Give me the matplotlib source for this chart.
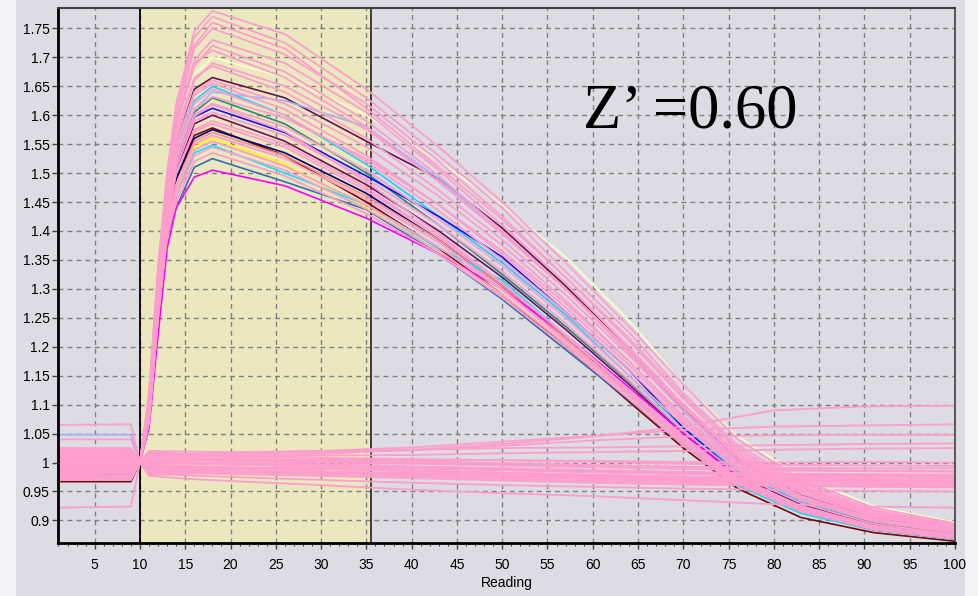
import matplotlib
matplotlib.use("Agg")
import matplotlib.pyplot as plt
from matplotlib.patches import Rectangle
from matplotlib.ticker import MultipleLocator

SIG_X = [1, 9, 10, 11, 12, 13, 14, 16, 18, 26, 35, 43, 50, 57, 64, 70, 76, 83, 91, 100]

PINK = "#ff9dcc"

# (colour, values) for every well that responds
signal_wells = [
    ("#ffffc8", [0.995, 0.995, 1.00, 1.10, 1.31, 1.47, 1.57, 1.670, 1.700, 1.665, 1.600, 1.520, 1.445, 1.355, 1.245, 1.135, 1.045, 0.975, 0.925, 0.897]),
    ("#20d0ff", [0.987, 0.987, 1.00, 1.10, 1.30, 1.46, 1.54, 1.625, 1.650, 1.600, 1.515, 1.425, 1.345, 1.255, 1.150, 1.060, 0.985, 0.932, 0.897, 0.878]),
    (PINK,      [1.010, 1.010, 1.00, 1.12, 1.34, 1.50, 1.62, 1.745, 1.780, 1.740, 1.645, 1.545, 1.450, 1.345, 1.235, 1.135, 1.040, 0.970, 0.922, 0.895]),
    ("#6a1050", [1.018, 1.015, 1.00, 1.10, 1.30, 1.46, 1.55, 1.645, 1.665, 1.630, 1.555, 1.490, 1.405, 1.305, 1.195, 1.092, 1.005, 0.945, 0.905, 0.884]),
    (PINK,      [1.000, 1.002, 1.00, 1.12, 1.33, 1.50, 1.61, 1.735, 1.770, 1.725, 1.630, 1.530, 1.440, 1.330, 1.225, 1.120, 1.030, 0.965, 0.918, 0.892]),
    ("#a0b0ff", [1.048, 1.048, 1.00, 1.09, 1.29, 1.45, 1.53, 1.610, 1.640, 1.625, 1.580, 1.490, 1.400, 1.300, 1.190, 1.088, 1.002, 0.942, 0.903, 0.882]),
    (PINK,      [1.020, 1.018, 1.00, 1.11, 1.33, 1.49, 1.60, 1.720, 1.760, 1.715, 1.612, 1.510, 1.420, 1.320, 1.210, 1.110, 1.020, 0.958, 0.915, 0.890]),
    ("#2a8a7a", [0.980, 0.980, 1.00, 1.09, 1.29, 1.44, 1.52, 1.605, 1.630, 1.585, 1.500, 1.410, 1.325, 1.235, 1.140, 1.055, 0.980, 0.930, 0.895, 0.877]),
    (PINK,      [0.985, 0.985, 1.00, 1.11, 1.32, 1.48, 1.59, 1.695, 1.730, 1.690, 1.605, 1.505, 1.410, 1.310, 1.200, 1.100, 1.015, 0.955, 0.912, 0.889]),
    ("#1010ff", [0.975, 0.975, 1.00, 1.09, 1.28, 1.43, 1.51, 1.597, 1.612, 1.570, 1.495, 1.425, 1.355, 1.260, 1.160, 1.060, 0.980, 0.928, 0.893, 0.875]),
    (PINK,      [1.015, 1.012, 1.00, 1.11, 1.32, 1.48, 1.58, 1.685, 1.720, 1.675, 1.590, 1.495, 1.400, 1.300, 1.190, 1.095, 1.010, 0.950, 0.910, 0.887]),
    ("#701060", [1.005, 1.005, 1.00, 1.09, 1.28, 1.43, 1.50, 1.585, 1.600, 1.555, 1.480, 1.400, 1.320, 1.230, 1.135, 1.050, 0.978, 0.928, 0.893, 0.875]),
    (PINK,      [1.005, 1.005, 1.00, 1.10, 1.31, 1.47, 1.56, 1.660, 1.690, 1.650, 1.575, 1.485, 1.395, 1.300, 1.195, 1.095, 1.010, 0.950, 0.908, 0.886]),
    ("#800000", [0.967, 0.967, 1.00, 1.08, 1.27, 1.42, 1.49, 1.565, 1.578, 1.530, 1.450, 1.370, 1.290, 1.200, 1.105, 1.025, 0.955, 0.905, 0.879, 0.864]),
    (PINK,      [0.975, 0.975, 1.00, 1.10, 1.30, 1.46, 1.55, 1.640, 1.660, 1.620, 1.545, 1.460, 1.375, 1.280, 1.175, 1.080, 1.000, 0.942, 0.903, 0.883]),
    ("#000080", [0.975, 0.975, 1.00, 1.08, 1.27, 1.42, 1.49, 1.560, 1.575, 1.535, 1.465, 1.385, 1.305, 1.215, 1.120, 1.035, 0.965, 0.918, 0.886, 0.870]),
    (PINK,      [1.022, 1.020, 1.00, 1.10, 1.29, 1.45, 1.54, 1.620, 1.645, 1.600, 1.520, 1.435, 1.350, 1.260, 1.160, 1.070, 0.990, 0.936, 0.900, 0.880]),
    ("#ff8c80", [1.000, 1.000, 1.00, 1.08, 1.26, 1.41, 1.48, 1.555, 1.570, 1.530, 1.460, 1.385, 1.305, 1.215, 1.120, 1.040, 0.970, 0.922, 0.889, 0.872]),
    (PINK,      [0.992, 0.992, 1.00, 1.09, 1.28, 1.44, 1.52, 1.600, 1.620, 1.580, 1.505, 1.420, 1.340, 1.250, 1.150, 1.065, 0.988, 0.935, 0.898, 0.879]),
    ("#ffff00", [0.975, 0.975, 1.00, 1.08, 1.26, 1.41, 1.47, 1.545, 1.560, 1.515, 1.440, 1.365, 1.290, 1.205, 1.115, 1.035, 0.965, 0.918, 0.886, 0.870]),
    (PINK,      [1.012, 1.012, 1.00, 1.08, 1.27, 1.42, 1.50, 1.575, 1.590, 1.550, 1.475, 1.390, 1.310, 1.220, 1.125, 1.040, 0.970, 0.924, 0.890, 0.873]),
    ("#00e8ff", [0.970, 0.970, 1.00, 1.07, 1.25, 1.40, 1.46, 1.535, 1.548, 1.500, 1.445, 1.370, 1.315, 1.220, 1.125, 1.035, 0.960, 0.912, 0.883, 0.867]),
    (PINK,      [0.995, 0.995, 1.00, 1.08, 1.26, 1.41, 1.48, 1.550, 1.565, 1.525, 1.455, 1.380, 1.300, 1.210, 1.118, 1.038, 0.968, 0.920, 0.888, 0.871]),
    ("#2f6fb8", [0.990, 0.990, 1.00, 1.07, 1.24, 1.39, 1.44, 1.510, 1.525, 1.485, 1.437, 1.360, 1.282, 1.195, 1.108, 1.030, 0.962, 0.915, 0.884, 0.868]),
    (PINK,      [1.020, 1.020, 1.00, 1.07, 1.25, 1.39, 1.45, 1.520, 1.535, 1.495, 1.430, 1.360, 1.285, 1.200, 1.110, 1.030, 0.962, 0.915, 0.884, 0.868]),
    ("#ff00ff", [0.990, 0.990, 1.00, 1.06, 1.22, 1.37, 1.44, 1.493, 1.505, 1.478, 1.422, 1.360, 1.300, 1.220, 1.130, 1.050, 0.975, 0.920, 0.889, 0.872]),
    (PINK,      [1.008, 1.008, 1.00, 1.11, 1.33, 1.49, 1.60, 1.715, 1.750, 1.705, 1.620, 1.520, 1.425, 1.320, 1.215, 1.115, 1.025, 0.960, 0.916, 0.891]),
    (PINK,      [0.982, 0.982, 1.00, 1.11, 1.32, 1.48, 1.59, 1.690, 1.712, 1.665, 1.580, 1.485, 1.395, 1.300, 1.195, 1.100, 1.015, 0.952, 0.910, 0.887]),
    (PINK,      [1.025, 1.022, 1.00, 1.10, 1.31, 1.47, 1.57, 1.665, 1.685, 1.640, 1.560, 1.470, 1.385, 1.290, 1.185, 1.090, 1.005, 0.946, 0.906, 0.885]),
    (PINK,      [0.972, 0.972, 1.00, 1.07, 1.25, 1.40, 1.46, 1.530, 1.545, 1.505, 1.438, 1.365, 1.290, 1.205, 1.115, 1.035, 0.965, 0.918, 0.886, 0.869]),
    (PINK,      [1.002, 1.002, 1.00, 1.09, 1.29, 1.45, 1.53, 1.610, 1.632, 1.595, 1.525, 1.445, 1.365, 1.275, 1.175, 1.080, 0.998, 0.940, 0.902, 0.881]),
    (PINK,      [0.988, 0.988, 1.00, 1.08, 1.27, 1.42, 1.50, 1.572, 1.585, 1.545, 1.470, 1.390, 1.310, 1.220, 1.125, 1.042, 0.972, 0.925, 0.891, 0.874]),
    (PINK,      [0.998, 0.998, 1.00, 1.09, 1.28, 1.43, 1.51, 1.590, 1.605, 1.565, 1.490, 1.410, 1.330, 1.240, 1.142, 1.055, 0.980, 0.930, 0.894, 0.876]),
    (PINK,      [1.016, 1.016, 1.00, 1.07, 1.25, 1.40, 1.47, 1.540, 1.555, 1.512, 1.445, 1.372, 1.298, 1.212, 1.120, 1.038, 0.966, 0.918, 0.886, 0.869]),
    (PINK,      [0.978, 0.978, 1.00, 1.09, 1.28, 1.44, 1.52, 1.598, 1.618, 1.572, 1.485, 1.395, 1.310, 1.220, 1.125, 1.045, 0.972, 0.922, 0.888, 0.870]),
    (PINK,      [1.010, 1.010, 1.00, 1.10, 1.30, 1.46, 1.55, 1.635, 1.655, 1.610, 1.530, 1.445, 1.360, 1.268, 1.168, 1.075, 0.993, 0.937, 0.899, 0.879]),
]

BASE_X = [1, 9, 10, 11, 15, 20, 30, 40, 50, 60, 70, 80, 90, 100]

control_wells = [
    [1.020, 1.020, 1.00, 1.012, 1.010, 1.012, 1.015, 1.022, 1.032, 1.045, 1.062, 1.090, 1.097, 1.098],
    [1.065, 1.066, 1.00, 1.018, 1.015, 1.016, 1.020, 1.026, 1.036, 1.046, 1.056, 1.062, 1.064, 1.066],
    [1.040, 1.040, 1.00, 1.015, 1.014, 1.015, 1.018, 1.021, 1.029, 1.038, 1.045, 1.047, 1.048, 1.048],
    [1.005, 1.005, 1.00, 1.010, 1.012, 1.010, 1.012, 1.013, 1.016, 1.018, 1.020, 1.022, 1.024, 1.025],
    [0.998, 0.998, 1.00, 1.006, 1.008, 1.006, 1.005, 1.004, 1.004, 1.003, 1.001, 1.000, 1.001, 1.000],
    [1.015, 1.015, 1.00, 1.004, 1.004, 1.002, 1.000, 0.998, 0.995, 0.992, 0.989, 0.986, 0.985, 0.984],
    [0.990, 0.990, 1.00, 1.000, 0.999, 0.998, 0.996, 0.993, 0.990, 0.987, 0.984, 0.981, 0.980, 0.979],
    [1.025, 1.025, 1.00, 0.998, 0.998, 0.996, 0.993, 0.990, 0.987, 0.983, 0.980, 0.977, 0.976, 0.975],
    [0.980, 0.982, 1.00, 0.994, 0.993, 0.991, 0.989, 0.986, 0.983, 0.979, 0.976, 0.974, 0.973, 0.972],
    [1.010, 1.010, 1.00, 0.992, 0.992, 0.991, 0.989, 0.986, 0.982, 0.978, 0.975, 0.972, 0.970, 0.969],
    [1.000, 1.000, 1.00, 0.990, 0.989, 0.988, 0.985, 0.981, 0.977, 0.973, 0.970, 0.968, 0.966, 0.965],
    [0.975, 0.975, 1.00, 0.988, 0.987, 0.985, 0.982, 0.979, 0.975, 0.971, 0.968, 0.965, 0.963, 0.962],
    [1.018, 1.018, 1.00, 0.985, 0.985, 0.983, 0.980, 0.976, 0.972, 0.968, 0.965, 0.962, 0.960, 0.959],
    [0.992, 0.992, 1.00, 0.983, 0.982, 0.980, 0.977, 0.973, 0.969, 0.965, 0.962, 0.960, 0.958, 0.957],
    [0.985, 0.985, 1.00, 0.980, 0.978, 0.975, 0.970, 0.965, 0.961, 0.958, 0.955, 0.953, 0.951, 0.950],
    [0.922, 0.924, 1.00, 0.977, 0.972, 0.968, 0.961, 0.953, 0.947, 0.942, 0.935, 0.928, 0.924, 0.922],
    [0.970, 0.970, 1.00, 1.020, 1.019, 1.018, 1.020, 1.022, 1.025, 1.026, 1.028, 1.030, 1.032, 1.033],
    [1.012, 1.012, 1.00, 1.008, 1.006, 1.004, 1.002, 0.999, 0.997, 0.995, 0.993, 0.991, 0.990, 0.990],
    [1.022, 1.022, 1.00, 1.002, 1.000, 0.999, 0.997, 0.993, 0.990, 0.986, 0.983, 0.980, 0.978, 0.977],
    [0.995, 0.995, 1.00, 0.996, 0.994, 0.992, 0.989, 0.985, 0.981, 0.977, 0.973, 0.970, 0.968, 0.967],
    [1.003, 1.003, 1.00, 1.014, 1.012, 1.010, 1.008, 1.006, 1.004, 1.001, 0.998, 0.996, 0.995, 0.994],
    [0.978, 0.978, 1.00, 0.979, 0.981, 0.983, 0.984, 0.982, 0.979, 0.975, 0.972, 0.970, 0.969, 0.968],
    [1.008, 1.008, 1.00, 1.000, 1.003, 1.005, 1.004, 1.002, 0.999, 0.996, 0.992, 0.988, 0.986, 0.985],
    [0.997, 0.997, 1.00, 0.986, 0.988, 0.990, 0.992, 0.990, 0.987, 0.984, 0.981, 0.979, 0.977, 0.976],
]

window_start, window_end = 10, 35.5
z_prime = "Z\u2019 =0.60"

fig = plt.figure(figsize=(9.79, 5.96), dpi=100, facecolor="#f3f3f5")
panel = Rectangle((16 / 979, 0), 949 / 979, 1, transform=fig.transFigure,
                  facecolor="#dcdce2", edgecolor="none", zorder=-10)
fig.add_artist(panel)
ax = fig.add_axes([58 / 979, 53 / 596, 897 / 979, 535.5 / 596])
ax.set_zorder(1)
ax.set_facecolor("#dcdce2")

ax.axvspan(window_start, window_end, facecolor="#ebe8bf", edgecolor="none", zorder=0.2)
ax.axvline(window_start, color="black", lw=1.3, zorder=1.5)
ax.axvline(window_end, color="#303030", lw=1.3, zorder=1.5)

# coloured wells underneath, the pink ones painted over them
for col, vals in signal_wells:
    if col != PINK:
        ax.plot(SIG_X, vals, color=col, lw=1.2, zorder=2)
for col, vals in signal_wells:
    if col == PINK:
        ax.plot(SIG_X, vals, color=col, lw=1.3, zorder=2.1)
for vals in control_wells:
    ax.plot(BASE_X, vals, color=PINK, lw=1.3, zorder=2.1)

ax.set_xlim(0.95, 100)
ax.set_ylim(0.861, 1.786)
ax.xaxis.set_minor_locator(MultipleLocator(1))
ax.set_xticks(range(5, 101, 5))
ax.set_yticks([0.9 + 0.05 * i for i in range(18)])
ax.set_yticklabels([f"{0.9 + 0.05 * i:.2f}".rstrip("0").rstrip(".") for i in range(18)])

ax.grid(True, which="major", color="#7f7f7f", linestyle=(0, (3.5, 3)), lw=1.0)
ax.set_axisbelow(True)

ax.tick_params(axis="both", which="major", labelsize=10, length=4, width=1, color="#404040")
ax.tick_params(axis="x", which="major", pad=7)
ax.tick_params(axis="x", which="minor", length=2.5, width=0.8, color="#404040")
ax.tick_params(axis="y", pad=2)
for lab in ax.get_xticklabels() + ax.get_yticklabels():
    lab.set_family("Liberation Sans")

ax.spines["left"].set_linewidth(2)
ax.spines["bottom"].set_linewidth(2)
ax.spines["left"].set_color("black")
ax.spines["bottom"].set_color("black")
ax.spines["top"].set_color("#404040")
ax.spines["right"].set_color("#404040")
ax.spines["top"].set_linewidth(1.5)
ax.spines["right"].set_linewidth(1.2)

ax.set_xlabel("Reading", fontsize=10, family="Liberation Sans", labelpad=3)

ax.text(58.9, 1.578, z_prime, fontsize=45, family="Liberation Serif",
        ha="left", va="baseline", zorder=5)

fig.savefig("out.png", dpi=100, facecolor=fig.get_facecolor())
